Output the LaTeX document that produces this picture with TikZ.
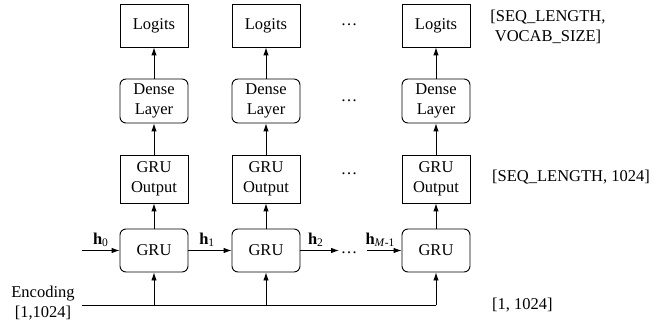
\documentclass[tikz,border=0pt]{standalone}
\usepackage{fontspec}
\setmainfont{Liberation Serif}
\usepackage{tikz}
\usetikzlibrary{arrows.meta}
\tikzset{
    block/.style={draw=black, line width=0.9pt, minimum width=68pt, minimum height=43pt, align=center, inner sep=2pt},
    layer/.style={block, rounded corners=6pt},
    flow/.style={-{Latex[length=8pt,width=5.5pt]}, line width=0.9pt},
    dims/.style={align=center, inner sep=0pt}}

\begin{document}
\begin{tikzpicture}[x=1pt, y=-1pt, font=\fontsize{16.5}{20}\selectfont]

            \useasboundingbox (0,0) rectangle (662,326);

            % output logits
            \node[block] (L1) at (154,25.5) {Logits};
            \node[block] (L2) at (266,25.5) {Logits};
            \node[block] (L3) at (436,25.5) {Logits};

            % dense layers
            \node[layer, minimum height=44pt] (D1) at (154,101) {Dense\\Layer};
            \node[layer, minimum height=44pt] (D2) at (266,101) {Dense\\Layer};
            \node[layer, minimum height=44pt] (D3) at (436,101) {Dense\\Layer};

            % gru outputs
            \node[block, minimum height=48pt] (O1) at (154,179) {GRU\\Output};
            \node[block, minimum height=48pt] (O2) at (266,179) {GRU\\Output};
            \node[block, minimum height=48pt] (O3) at (436,179) {GRU\\Output};

            % gru cells
            \node[layer] (G1) at (154,250.5) {GRU};
            \node[layer] (G2) at (266,250.5) {GRU};
            \node[layer] (G3) at (436,250.5) {GRU};

            % skipped columns
            \node[dims, anchor=base] (dL) at (349,25.5) {\dots};
            \node[dims, anchor=base] (dD) at (349,101.5) {\dots};
            \node[dims, anchor=base] (dO) at (349,174.5) {\dots};
            \node[dims, anchor=base] (dG) at (349,253.5) {\dots};

            % tensor shapes
            \node[dims] (sL) at (548,27) {[SEQ\_LENGTH,\\VOCAB\_SIZE]};
            \node[dims, anchor=west] (sO) at (492,177) {[SEQ\_LENGTH, 1024]};
            \node[dims, anchor=west] (sE) at (492,305) {[1, 1024]};
            \node[dims] (enc) at (43,303) {Encoding\\{[1,1024]}};

            \coordinate (e0) at (82,305);
            \coordinate (h0) at (82,250.5);
            \coordinate (h2) at (339,250.5);
            \coordinate (hM) at (367,250.5);

            \draw[flow] (D1) -- (L1);
            \draw[flow] (D2) -- (L2);
            \draw[flow] (D3) -- (L3);
            \draw[flow] (O1) -- (D1);
            \draw[flow] (O2) -- (D2);
            \draw[flow] (O3) -- (D3);
            \draw[flow] (G1) -- (O1);
            \draw[flow] (G2) -- (O2);
            \draw[flow] (G3) -- (O3);

            \draw[line width=0.9pt] (e0) -- (e0 -| G3);
            \draw[flow] (e0 -| G1) -- (G1);
            \draw[flow] (e0 -| G2) -- (G2);
            \draw[flow] (e0 -| G3) -- (G3);

            \draw[flow] (h0) -- (G1) node[midway, above] {\textbf{h}\textsubscript{0}};
            \draw[flow] (G1) -- (G2) node[midway, above, xshift=-3pt] {\textbf{h}\textsubscript{1}};
            \draw[flow] (G2) -- (h2) node[midway, above, xshift=-4pt] {\textbf{h}\textsubscript{2}};
            \draw[flow] (hM) -- (G3) node[midway, above, xshift=-4pt] {\textbf{h}\textsubscript{\textit{M}-1}};

        \end{tikzpicture}
\end{document}
